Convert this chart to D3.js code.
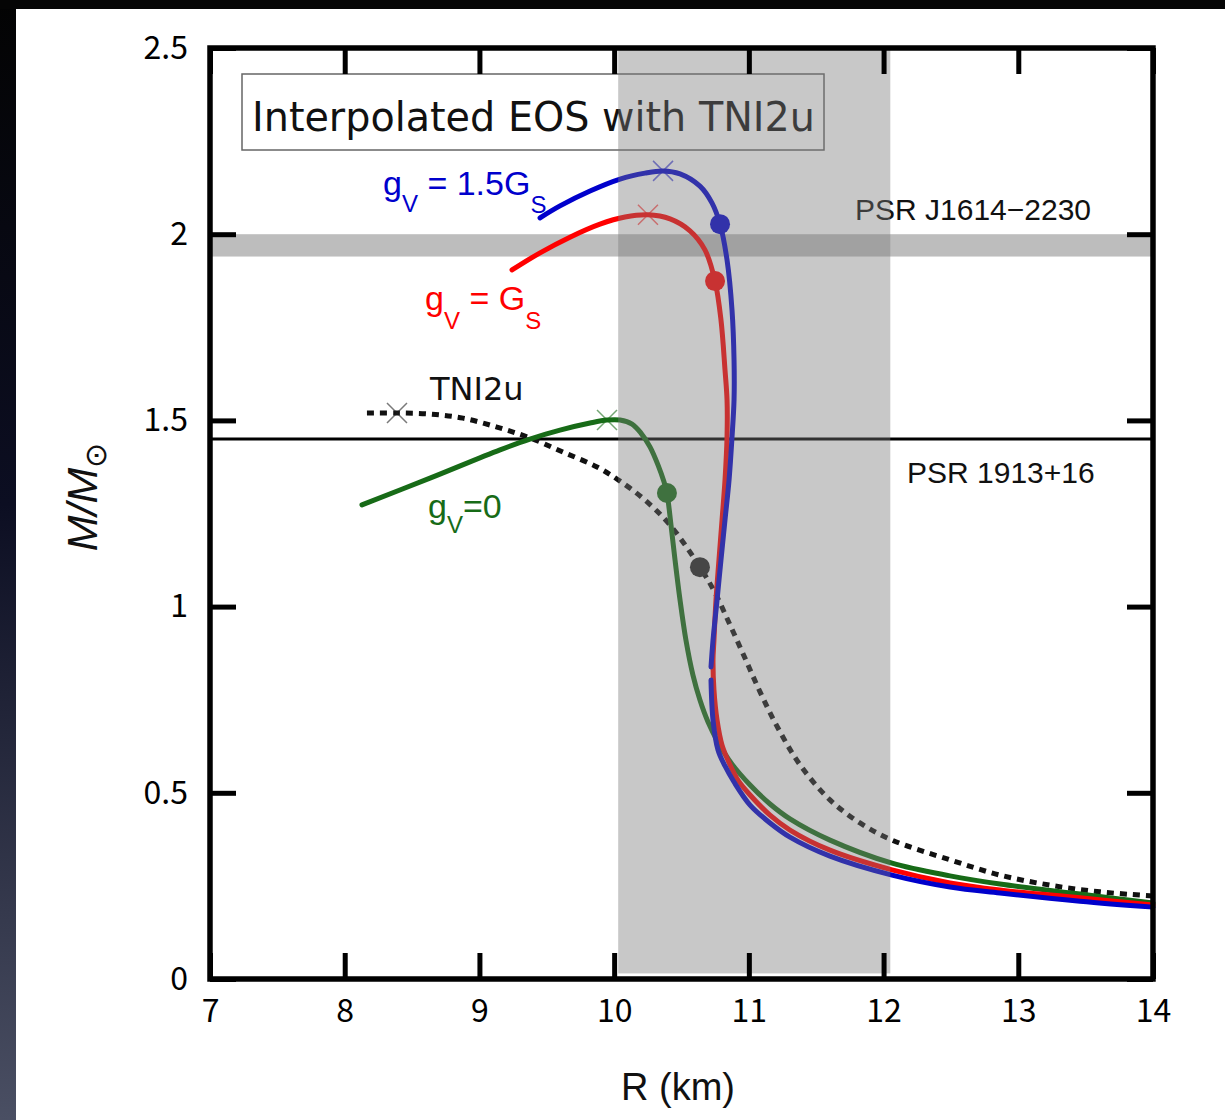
<!DOCTYPE html>
<html><head><meta charset="utf-8">
<script src="https://cdn.jsdelivr.net/npm/d3@7"></script>
<style>body{margin:0;background:#fff}svg{display:block}</style>
</head><body>
<script>
// ---- data ----
const xTicks = [7, 8, 9, 10, 11, 12, 13, 14];
const yTicks = [0, 0.5, 1, 1.5, 2, 2.5];

// gV = 1.5 GS (two pieces, small gap near M~0.82)
const blueUpperR = [9.450, 9.598, 9.821, 10.044, 10.229, 10.363, 10.489, 10.637, 10.726, 10.786, 10.838, 10.875, 10.890, 10.890, 10.875, 10.853, 10.823, 10.793, 10.764, 10.734, 10.719];
const blueUpperM = [2.044, 2.076, 2.116, 2.148, 2.164, 2.170, 2.162, 2.129, 2.084, 2.027, 1.931, 1.796, 1.662, 1.555, 1.455, 1.340, 1.233, 1.125, 1.018, 0.910, 0.838];
const blueLowerR = [10.719, 10.734, 10.771, 10.823, 10.890, 11.009, 11.157, 11.305, 11.602, 12.063, 12.493, 12.864, 13.458, 14.000];
const blueLowerM = [0.803, 0.695, 0.615, 0.572, 0.529, 0.467, 0.419, 0.381, 0.330, 0.279, 0.247, 0.231, 0.209, 0.193];

// gV = GS
const redR = [9.242, 9.450, 9.672, 9.895, 10.081, 10.251, 10.415, 10.563, 10.674, 10.749, 10.793, 10.823, 10.838, 10.838, 10.823, 10.801, 10.778, 10.756, 10.741, 10.734, 10.741, 10.764, 10.801, 10.860, 10.919, 11.009, 11.157, 11.305, 11.602, 12.063, 12.493, 12.864, 13.458, 14.000];
const redM = [1.904, 1.950, 1.992, 2.027, 2.046, 2.052, 2.041, 2.009, 1.958, 1.874, 1.770, 1.635, 1.555, 1.455, 1.340, 1.233, 1.125, 1.018, 0.910, 0.857, 0.776, 0.695, 0.628, 0.575, 0.534, 0.494, 0.440, 0.400, 0.346, 0.293, 0.258, 0.239, 0.218, 0.199];

// gV = 0
const greenR = [8.128, 8.633, 9.153, 9.375, 9.598, 9.821, 9.947, 10.044, 10.133, 10.199, 10.266, 10.326, 10.370, 10.392, 10.422, 10.452, 10.489, 10.533, 10.585, 10.637, 10.697, 10.771, 10.875, 11.009, 11.157, 11.305, 11.602, 12.063, 12.493, 12.864, 13.458, 14.000];
const greenM = [1.273, 1.345, 1.421, 1.450, 1.474, 1.493, 1.501, 1.501, 1.490, 1.466, 1.429, 1.380, 1.335, 1.305, 1.219, 1.125, 1.018, 0.910, 0.816, 0.749, 0.690, 0.636, 0.577, 0.521, 0.470, 0.430, 0.373, 0.311, 0.277, 0.255, 0.228, 0.204];

// TNI2u (hadronic)
const tniR = [8.165, 8.388, 8.633, 8.878, 9.130, 9.375, 9.620, 9.873, 10.044, 10.229, 10.415, 10.637, 10.749, 10.860, 10.971, 11.083, 11.216, 11.380, 11.602, 11.825, 12.063, 12.493, 12.864, 13.235, 13.607, 14.000];
const tniM = [1.520, 1.520, 1.517, 1.506, 1.482, 1.453, 1.415, 1.375, 1.337, 1.286, 1.219, 1.106, 1.037, 0.951, 0.862, 0.771, 0.674, 0.575, 0.481, 0.419, 0.373, 0.320, 0.279, 0.252, 0.234, 0.223];

// markers: maximum mass (x) and dots
const maxR = [10.363, 10.251, 9.947, 8.388];
const maxM = [2.170, 2.052, 1.501, 1.520];
const dotR = [10.786, 10.749, 10.392, 10.637];
const dotM = [2.027, 1.874, 1.305, 1.106];
const markerColors = ["#0000cc", "#ff0000", "#176b17", "#222"];

// observational constraints
const bandR = [10.03, 12.05];
const bandM = [1.94, 2.00];
const psrHulseTaylorM = 1.45;

// ---- drawing ----
const W = 1225, H = 1120;
const svg = d3.select("body").append("svg").attr("width", W).attr("height", H);

const defs = svg.append("defs");
const grad = defs.append("linearGradient").attr("id", "leftgrad").attr("x1", 0).attr("y1", 0).attr("x2", 0).attr("y2", 1);
grad.append("stop").attr("offset", "0").attr("stop-color", "#030303");
grad.append("stop").attr("offset", "0.45").attr("stop-color", "#0c0e22");
grad.append("stop").attr("offset", "1").attr("stop-color", "#4a4f63");

svg.append("rect").attr("width", W).attr("height", H).attr("fill", "#fff");
svg.append("rect").attr("x", 0).attr("y", 0).attr("width", 16).attr("height", H).attr("fill", "url(#leftgrad)");
svg.append("rect").attr("x", 0).attr("y", 0).attr("width", W).attr("height", 9).attr("fill", "#050505");

const x = d3.scaleLinear().domain([7, 14]).range([210, 1153]);
const y = d3.scaleLinear().domain([0, 2.5]).range([979, 48]);

// horizontal band (PSR J1614-2230)
svg.append("rect")
  .attr("x", x(7)).attr("width", x(14) - x(7))
  .attr("y", y(bandM[1])).attr("height", y(bandM[0]) - y(bandM[1]))
  .attr("fill", "#bdbdbd");

// legend box
svg.append("rect").attr("x", 242).attr("y", 74).attr("width", 582).attr("height", 76)
  .attr("fill", "#fff").attr("stroke", "#666").attr("stroke-width", 1.5);
svg.append("text").attr("x", 252).attr("y", 131)
  .attr("font-family", "DejaVu Sans").attr("font-size", 40).attr("fill", "#111")
  .attr("textLength", 563).attr("lengthAdjust", "spacingAndGlyphs")
  .text("Interpolated EOS with TNI2u");

// PSR 1913+16 line
svg.append("line").attr("x1", x(7)).attr("x2", x(14))
  .attr("y1", y(psrHulseTaylorM)).attr("y2", y(psrHulseTaylorM))
  .attr("stroke", "#000").attr("stroke-width", 3);

const line = d3.line().x(d => x(d[0])).y(d => y(d[1])).curve(d3.curveCatmullRom.alpha(0.5));

function curve(R, M, color, dash) {
  const p = svg.append("path").attr("d", line(d3.zip(R, M)))
    .attr("fill", "none").attr("stroke", color).attr("stroke-width", 5)
    .attr("stroke-linejoin", "round");
  if (dash) p.attr("stroke-dasharray", dash);
  else p.attr("stroke-linecap", "round");
}
curve(tniR, tniM, "#111", "7,6");
curve(greenR, greenM, "#176b17");
curve(redR, redM, "#ff0000");
curve(blueUpperR, blueUpperM, "#0000cc");
curve(blueLowerR, blueLowerM, "#0000cc");

// max-mass crosses
maxR.forEach((r, i) => {
  const cx = x(r), cy = y(maxM[i]), s = 10;
  svg.append("path").attr("d", `M${cx - s},${cy - s}L${cx + s},${cy + s}M${cx - s},${cy + s}L${cx + s},${cy - s}`)
    .attr("stroke", markerColors[i]).attr("stroke-width", 1.5).attr("opacity", 0.6).attr("fill", "none");
});
// dots
dotR.forEach((r, i) => {
  svg.append("circle").attr("cx", x(r)).attr("cy", y(dotM[i])).attr("r", 10).attr("fill", markerColors[i]);
});

// curve labels
function subLabel(xp, yp, color, parts) {
  const t = svg.append("text").attr("x", xp).attr("y", yp)
    .attr("font-family", "Liberation Sans, Arial, sans-serif").attr("fill", color);
  parts.forEach(pt => {
    t.append("tspan").attr("font-size", pt.sub ? 24 : 34).attr("dy", pt.dy || 0).text(pt.t);
  });
  return t;
}
subLabel(383, 195, "#0000cc", [{t: "g"}, {t: "V", sub: true, dy: 17}, {t: "\u00a0=\u00a01.5G", dy: -17}, {t: "S", sub: true, dy: 18}]);
subLabel(425, 310, "#ff0000", [{t: "g"}, {t: "V", sub: true, dy: 19}, {t: "\u00a0=\u00a0G", dy: -19}, {t: "S", sub: true, dy: 19}]);
subLabel(428, 518, "#176b17", [{t: "g"}, {t: "V", sub: true, dy: 15}, {t: "=0", dy: -15}]);

svg.append("text").attr("x", 430).attr("y", 400)
  .attr("font-family", "DejaVu Sans").attr("font-size", 32).attr("fill", "#111").text("TNI2u");

svg.append("text").attr("x", 855).attr("y", 220)
  .attr("font-family", "Liberation Sans, Arial, sans-serif").attr("font-size", 30).attr("fill", "#111")
  .text("PSR J1614\u22122230");
svg.append("text").attr("x", 907).attr("y", 483)
  .attr("font-family", "Liberation Sans, Arial, sans-serif").attr("font-size", 30).attr("fill", "#111")
  .text("PSR 1913+16");

// vertical radius band (drawn as translucent overlay)
svg.append("rect")
  .attr("x", x(bandR[0])).attr("width", x(bandR[1]) - x(bandR[0]))
  .attr("y", y(2.5)).attr("height", y(0.015) - y(2.5))
  .attr("fill", "#7a7a7a").attr("opacity", 0.41);

// axes with inward ticks on all four sides
const tickFont = "Noto Sans CJK JP, sans-serif";
function styleAxis(g) {
  g.select(".domain").remove();
  g.selectAll(".tick line").attr("stroke", "#000").attr("stroke-width", 5);
  g.attr("font-family", tickFont).attr("font-size", 32);
  g.selectAll(".tick text").attr("fill", "#000");
}
svg.append("g").attr("transform", `translate(0,${y(0)})`)
  .call(d3.axisBottom(x).tickValues(xTicks).tickSize(-26).tickPadding(20).tickFormat(d3.format("d")))
  .call(styleAxis);
svg.append("g").attr("transform", `translate(0,${y(2.5)})`)
  .call(d3.axisTop(x).tickValues(xTicks).tickSize(-26).tickFormat(""))
  .call(styleAxis);
svg.append("g").attr("transform", `translate(${x(7)},0)`)
  .call(d3.axisLeft(y).tickValues(yTicks).tickSize(-26).tickPadding(22).tickFormat(d => String(d)))
  .call(styleAxis);
svg.append("g").attr("transform", `translate(${x(14)},0)`)
  .call(d3.axisRight(y).tickValues(yTicks).tickSize(-26).tickFormat(""))
  .call(styleAxis);

// frame
svg.append("rect").attr("x", x(7)).attr("y", y(2.5)).attr("width", x(14) - x(7)).attr("height", y(0) - y(2.5))
  .attr("fill", "none").attr("stroke", "#000").attr("stroke-width", 5.5);

// axis titles
svg.append("text").attr("x", 678).attr("y", 1100).attr("text-anchor", "middle")
  .attr("font-family", "Liberation Sans, Arial, sans-serif").attr("font-size", 38).attr("fill", "#111")
  .text("R (km)");
const yl = svg.append("text").attr("transform", "translate(97,497) rotate(-90)").attr("text-anchor", "middle")
  .attr("font-family", "Liberation Sans, Arial, sans-serif").attr("fill", "#111");
yl.append("tspan").attr("font-size", 43).attr("font-style", "italic").text("M/M");
yl.append("tspan").attr("font-size", 30).attr("dy", 9).text("\u2299");
</script>
</body></html>
